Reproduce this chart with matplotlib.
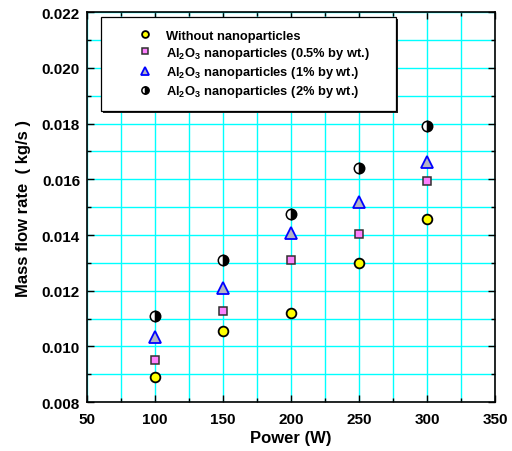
import matplotlib
matplotlib.use("Agg")
import matplotlib.pyplot as plt
import matplotlib.transforms as mtransforms
from matplotlib.lines import Line2D
from matplotlib.patches import Rectangle
from matplotlib.ticker import MultipleLocator, FormatStrFormatter

plt.rcParams['font.family'] = ['Liberation Sans', 'DejaVu Sans']
plt.rcParams['font.weight'] = 'bold'
plt.rcParams['mathtext.fontset'] = 'custom'
plt.rcParams['mathtext.rm'] = 'Liberation Sans:bold'
plt.rcParams['mathtext.it'] = 'Liberation Sans:bold'
plt.rcParams['mathtext.bf'] = 'Liberation Sans:bold'

# heating power (W) and measured mass flow rate (kg/s)
power = [100, 150, 200, 250, 300]
without_np = [0.00889, 0.01057, 0.01120, 0.01298, 0.01458]
al2o3_05 = [0.00953, 0.01128, 0.01310, 0.01404, 0.01595]
al2o3_1 = [0.01035, 0.01211, 0.01407, 0.01520, 0.01662]
al2o3_2 = [0.01108, 0.01312, 0.01475, 0.01641, 0.01793]

labels = ["Without nanoparticles",
          "Al$_2$O$_3$ nanoparticles (0.5% by wt.)",
          "Al$_2$O$_3$ nanoparticles (1% by wt.)",
          "Al$_2$O$_3$ nanoparticles (2% by wt.)"]

styles = [
    dict(marker='o', ms=7, mfc='#FFFF00', mec='black', mew=1.3),
    dict(marker='s', ms=6, mfc='#FF80FF', mec='#303030', mew=1.1),
    dict(marker='^', ms=8, mfc='#B4B4C4', mec='#0000FF', mew=1.3),
    dict(marker='o', ms=7.5, mfc='black', mfcalt='white', mec='black',
         mew=1.1, fillstyle='right'),
]

fig = plt.figure(figsize=(5.12, 4.52), dpi=100)
ax = fig.add_axes([0.170, 0.108, 0.797, 0.863])

for ys, st in zip([without_np, al2o3_05, al2o3_1, al2o3_2], styles):
    st = dict(st)
    alt = st.pop('mfcalt', None)
    line, = ax.plot(power, ys, linestyle='none', zorder=5, **st)
    if alt:
        line.set_markerfacecoloralt(alt)

ax.set_xlim(50, 350)
ax.set_ylim(0.008, 0.022)
ax.xaxis.set_major_locator(MultipleLocator(50))
ax.xaxis.set_minor_locator(MultipleLocator(25))
ax.yaxis.set_major_locator(MultipleLocator(0.002))
ax.yaxis.set_minor_locator(MultipleLocator(0.001))
ax.yaxis.set_major_formatter(FormatStrFormatter('%.3f'))

ax.grid(True, which='both', color='#00FFFF', linewidth=1.0)
ax.set_axisbelow(True)
ax.tick_params(which='both', direction='in', top=True, right=True,
               labelsize=11, width=1.0)
ax.tick_params(which='major', length=5)
ax.tick_params(which='minor', length=3)
ax.tick_params(axis='x', pad=7)
ax.tick_params(axis='y', pad=5)
for sp in ax.spines.values():
    sp.set_linewidth(1.2)

ax.set_xlabel("Power (W)", fontsize=12, fontweight='bold', labelpad=3)
ax.set_ylabel("Mass flow rate  ( kg/s )", fontsize=12, fontweight='bold',
              labelpad=8)

# legend frame with a small drop shadow
box = dict(xy=(0.034, 0.746), width=0.723, height=0.241)
shadow_tr = mtransforms.offset_copy(ax.transAxes, fig=fig, x=1.2, y=-1.2,
                                    units='points')
ax.add_patch(Rectangle(transform=shadow_tr, facecolor='#202020',
                       edgecolor='none', zorder=6, **box))
ax.add_patch(Rectangle(transform=ax.transAxes, facecolor='white',
                       edgecolor='black', linewidth=0.9, zorder=7, **box))

handles = []
for st in styles:
    st = dict(st)
    alt = st.pop('mfcalt', None)
    st['ms'] = st['ms'] * 0.7
    h = Line2D([], [], linestyle='none', **st)
    if alt:
        h.set_markerfacecoloralt(alt)
    handles.append(h)

leg = ax.legend(handles, labels, loc='upper left',
                bbox_to_anchor=(0.110, 0.955), frameon=False,
                borderpad=0, borderaxespad=0, handlelength=2.0,
                handletextpad=0.6, labelspacing=0.25,
                prop=dict(size=9.3, weight='bold'))
leg.set_zorder(8)

fig.savefig("out.png", dpi=100)
